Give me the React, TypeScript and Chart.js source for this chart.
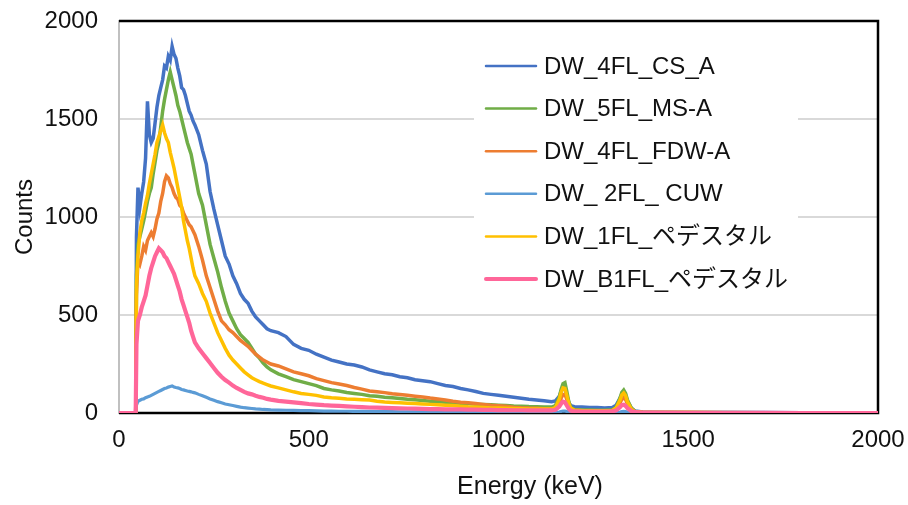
import { useEffect, useRef } from 'react';
import { Chart, registerables } from 'chart.js';

Chart.register(...registerables);

const FONT = '"Liberation Sans", Arial, "Noto Sans CJK JP", sans-serif';

// Energy (keV) sample points
const ENERGY = [
  0, 44, 46,
  50, 55, 60, 65, 70, 75, 80, 85, 90, 95, 100, 105, 110, 115, 120, 125, 130, 135, 140, 145, 150, 155, 160, 165, 170, 175, 180, 185, 190, 195, 200,
  210, 220, 230, 240, 250, 260, 270, 280, 290, 300, 310, 320, 330, 340, 350, 360, 370, 380, 390, 400,
  420, 440, 460, 480, 500, 520, 540, 560, 580, 600, 620, 640, 660, 680, 700, 720, 740, 760, 780, 800, 820, 840, 860, 880, 900, 920, 940, 960, 980, 1000, 1020, 1040, 1060, 1080, 1100,
  1120, 1140, 1150, 1160, 1165, 1170, 1175, 1180, 1185, 1190, 1200,
  1220, 1240, 1260, 1280, 1300, 1310, 1320, 1325, 1330, 1335, 1340, 1350, 1360, 1380, 1400,
  1500, 1600, 1700, 1800, 1900, 2000,
];

const SERIES_NAMES = ['DW_4FL_CS_A', 'DW_5FL_MS-A', 'DW_4FL_FDW-A', 'DW_ 2FL_ CUW', 'DW_1FL_ペデスタル', 'DW_B1FL_ペデスタル'];
const X_TITLE = 'Energy (keV)';
const Y_TITLE = 'Counts';

const CS_4FL = [
  0, 0, 900,
  1150, 1050, 1120, 1180, 1300, 1590, 1420, 1380, 1400, 1480, 1560, 1620, 1660, 1700, 1770, 1760, 1820, 1800, 1870, 1830, 1810, 1760, 1720, 1660, 1650, 1620, 1580, 1540, 1520, 1490, 1470,
  1420, 1340, 1270, 1130, 1040, 960, 880, 800, 760, 700, 660, 610, 580, 560, 520, 490, 470, 450, 430, 420,
  410, 390, 350, 330, 320, 300, 285, 270, 260, 250, 245, 235, 220, 210, 200, 195, 185, 180, 170, 165, 160, 150, 140, 135, 125, 118, 110, 100, 95, 90, 85, 80, 75, 70, 66,
  62, 58, 62, 85, 110, 130, 125, 90, 55, 38, 32,
  30, 28, 28, 26, 28, 40, 75, 95, 100, 90, 60, 25, 10, 5, 4,
  3, 2, 2, 1, 1, 1,
];

const MS_5FL = [
  0, 0, 700,
  860, 900, 940, 980, 1030, 1080, 1120, 1150, 1220, 1280, 1340, 1380, 1460, 1540, 1600, 1650, 1700, 1740, 1700, 1660, 1620, 1570, 1540, 1500, 1460, 1420, 1380, 1350, 1320, 1270, 1220,
  1120, 1060, 960, 860, 790, 720, 640, 570, 510, 470, 430, 400, 380, 360, 330, 300, 280, 255, 235, 220,
  200, 185, 170, 160, 150, 140, 125, 118, 112, 105, 100, 95, 88, 85, 80, 78, 74, 70, 67, 64, 60, 58, 55, 52, 50, 48, 45, 44, 42, 40, 38, 36, 35, 33, 32,
  30, 30, 38, 80, 120, 150, 155, 110, 60, 30, 18,
  15, 15, 14, 14, 16, 30, 75, 105, 117, 100, 65, 25, 8, 4, 3,
  2, 2, 1, 1, 1, 0,
];

const FDW_4FL = [
  0, 0, 600,
  780, 760, 800, 850, 830, 880, 900, 920, 900, 940, 990, 1020, 1080, 1120, 1180, 1210, 1200, 1170, 1150, 1120, 1100, 1090, 1060, 1050, 1020, 1000, 980, 960, 950, 930, 910,
  850, 780, 700, 640, 580, 520, 470, 450, 425, 410, 390, 370, 355, 340, 320, 300, 285, 270, 260, 250,
  240, 225, 210, 200, 190, 175, 165, 155, 148, 140, 130, 122, 112, 108, 104, 98, 94, 90, 86, 82, 76, 72, 66, 60, 55, 52, 48, 44, 40, 37, 34, 30, 27, 25, 24,
  22, 22, 26, 50, 75, 95, 95, 70, 40, 22, 14,
  12, 12, 11, 11, 12, 22, 50, 70, 78, 68, 45, 18, 6, 3, 2,
  2, 1, 1, 1, 0, 0,
];

const CUW_2FL = [
  0, 0, 40,
  60, 65, 70, 72, 78, 82, 85, 90, 95, 100, 105, 110, 115, 120, 125, 128, 132, 135, 138, 133, 130, 128, 125, 120, 118, 115, 112, 110, 108, 105, 103,
  95, 88, 80, 72, 65, 58, 52, 46, 42, 38, 34, 30, 27, 25, 23, 21, 20, 18, 17, 16,
  15, 14, 13, 12, 12, 11, 10, 10, 9, 9, 8, 8, 8, 7, 7, 7, 6, 6, 6, 6, 5, 5, 5, 5, 5, 4, 4, 4, 4, 4, 4, 3, 3, 3, 3,
  3, 3, 3, 5, 8, 10, 10, 7, 4, 3, 2,
  2, 2, 2, 2, 2, 3, 5, 7, 8, 7, 5, 2, 1, 1, 1,
  1, 0, 0, 0, 0, 0,
];

const PED_1FL = [
  0, 0, 650,
  800, 920, 980, 1020, 1070, 1110, 1170, 1220, 1270, 1320, 1380, 1410, 1440, 1470, 1430, 1400, 1380, 1330, 1290, 1250, 1200, 1150, 1100, 1050, 980, 930, 880, 840, 790, 740, 700,
  660, 610, 570, 510, 460, 410, 370, 330, 295, 270, 250, 230, 210, 195, 180, 170, 160, 152, 145, 138,
  128, 118, 108, 100, 95, 90, 82, 78, 75, 72, 70, 68, 66, 60, 56, 54, 52, 50, 48, 46, 44, 42, 40, 38, 35, 32, 30, 28, 26, 25, 24, 23, 22, 21, 20,
  20, 20, 28, 70, 105, 128, 125, 90, 50, 25, 14,
  12, 12, 11, 11, 13, 26, 65, 92, 102, 88, 55, 20, 6, 3, 2,
  2, 1, 1, 1, 0, 0,
];

const PED_B1FL = [
  0, 0, 350,
  470, 500, 540, 570, 600, 650, 700, 740, 770, 800, 820, 840, 830, 820, 800, 790, 770, 750, 730, 710, 680, 650, 620, 580, 550, 520, 490, 460, 420, 390, 360,
  330, 305, 280, 255, 230, 205, 185, 168, 155, 140, 128, 118, 108, 100, 95, 88, 82, 78, 72, 68,
  62, 58, 54, 50, 46, 43, 40, 38, 36, 34, 32, 30, 28, 27, 26, 25, 24, 23, 22, 21, 20, 20, 19, 18, 18, 17, 17, 16, 16, 15, 15, 14, 14, 13, 13,
  13, 13, 16, 32, 48, 58, 55, 38, 22, 12, 8,
  7, 7, 7, 7, 8, 14, 30, 40, 42, 36, 24, 10, 4, 2, 2,
  1, 1, 1, 0, 0, 0,
];

const SERIES_VALUES = [CS_4FL, MS_5FL, FDW_4FL, CUW_2FL, PED_1FL, PED_B1FL];
const SERIES_COLORS = ['#4472C4', '#70AD47', '#ED7D31', '#5B9BD5', '#FFC000', '#FF6699'];
const SERIES_WIDTHS = [3.5, 3.5, 3.5, 3.2, 3.5, 4.2];
const LEGEND_WIDTHS = [2.5, 2.5, 2.5, 2.5, 2.5, 4];

const Y_TICK_STEP = 500;
const X_TICK_STEP = 500;

const borderPlugin = {
  id: 'plotBorder',
  beforeDatasetsDraw(chart: any) {
    const { ctx, chartArea: a } = chart;
    ctx.save();
    ctx.strokeStyle = '#000';
    ctx.lineWidth = 2.5;
    ctx.beginPath();
    ctx.moveTo(a.left, a.top);
    ctx.lineTo(a.right, a.top);
    ctx.lineTo(a.right, a.bottom);
    ctx.lineTo(a.left, a.bottom);
    ctx.stroke();
    ctx.restore();
  },
};

const legendPlugin = {
  id: 'insideLegend',
  afterDraw(chart: any) {
    const { ctx } = chart;
    ctx.save();
    ctx.fillStyle = '#fff';
    ctx.fillRect(474, 44, 324, 258);
    ctx.font = `24px ${FONT}`;
    ctx.textBaseline = 'middle';
    ctx.textAlign = 'left';
    chart.data.datasets.forEach((ds: any, i: number) => {
      const y = 66 + i * 42.6;
      ctx.strokeStyle = ds.borderColor;
      ctx.lineWidth = LEGEND_WIDTHS[i];
      ctx.lineCap = 'round';
      ctx.beginPath();
      ctx.moveTo(486, y);
      ctx.lineTo(536, y);
      ctx.stroke();
      ctx.fillStyle = '#111';
      ctx.fillText(ds.label, 544, y + 1);
    });
    // x-axis title (offset to the right as in the original)
    ctx.font = `25px ${FONT}`;
    ctx.textAlign = 'center';
    ctx.fillText(X_TITLE, 530, 487);
    ctx.restore();
  },
};

export default function App() {
  const ref = useRef<HTMLCanvasElement>(null);
  useEffect(() => {
    document.body.style.margin = '0';
    const canvas = ref.current!;
    const chart = new Chart(canvas, {
      type: 'line',
      data: {
        datasets: SERIES_VALUES.map((vals, i) => ({
          label: SERIES_NAMES[i],
          data: ENERGY.map((e, k) => ({ x: e, y: vals[k] })),
          borderColor: SERIES_COLORS[i],
          backgroundColor: SERIES_COLORS[i],
          borderWidth: SERIES_WIDTHS[i],
          pointRadius: 0,
          tension: 0,
          fill: false,
          order: SERIES_VALUES.length - i,
        })),
      },
      options: {
        responsive: false,
        animation: false,
        devicePixelRatio: 1,
        layout: { padding: { top: 21, right: 30, bottom: 0, left: 0 } },
        plugins: { legend: { display: false }, tooltip: { enabled: false } },
        scales: {
          x: {
            type: 'linear',
            min: 0,
            max: 2000,
            ticks: { stepSize: X_TICK_STEP, font: { family: FONT, size: 24 }, color: '#111', padding: 13, maxRotation: 0, callback: (v: any) => String(v) },
            grid: { display: false, drawTicks: false },
            border: { display: false },
            title: { display: false },
            afterFit: (s: any) => { s.height = 92; s.paddingLeft = 0; s.paddingRight = 0; },
          },
          y: {
            min: 0,
            max: 2000,
            ticks: { stepSize: Y_TICK_STEP, font: { family: FONT, size: 24 }, color: '#111', padding: 21, callback: (v: any) => String(v) },
            grid: { color: '#d9d9d9', lineWidth: 2, drawTicks: false },
            border: { display: true, color: '#c0c0c0', width: 2 },
            title: { display: true, text: Y_TITLE, font: { family: FONT, size: 24 }, color: '#111', padding: { top: 11, bottom: 0 } },
            afterFit: (s: any) => { s.width = 119; s.paddingTop = 0; s.paddingBottom = 0; },
          },
        },
      },
      plugins: [borderPlugin, legendPlugin],
    } as any);
    return () => chart.destroy();
  }, []);
  return <canvas ref={ref} width={908} height={505} style={{ display: 'block', width: 908, height: 505 }} />;
}
